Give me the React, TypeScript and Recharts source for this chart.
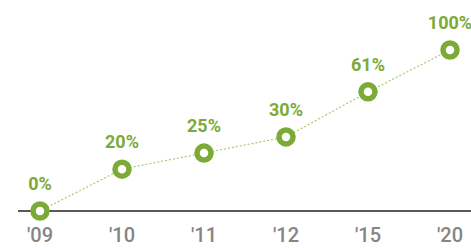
import { LineChart, Line, XAxis, YAxis, LabelList } from "recharts"

// category labels along the bottom
const years = ["'09", "'10", "'11", "'12", "'15", "'20"]
// printed share above each point
const shares = [0, 20, 25, 30, 61, 100]
// plotted height of each point (the chart is not to scale)
const levels = [0, 26, 36, 46, 74, 100]

const GREEN = "#7caa37"

const data = years.map((year, i) => ({
  year,
  level: levels[i],
  label: `${shares[i]}%`,
}))

export default function App() {
  return (
    <div style={{ position: "absolute", left: 0, top: 0 }}>
      <LineChart
        width={471}
        height={248}
        data={data}
        margin={{ top: 50, right: 0, bottom: 7, left: 18 }}
      >
        <XAxis
          dataKey="year"
          padding={{ left: 22, right: 21 }}
          axisLine={{ stroke: "#222", strokeWidth: 1.5 }}
          tickLine={false}
          tickMargin={11}
          height={30}
          tick={{ fill: "#858585", fontSize: 20, fontFamily: "Roboto", fontWeight: 500 }}
        />
        <YAxis hide domain={[0, 100]} />
        <Line
          dataKey="level"
          stroke="#a9c96e"
          strokeWidth={1.2}
          strokeDasharray="2 2"
          isAnimationActive={false}
          dot={{ r: 7, fill: "#fff", stroke: GREEN, strokeWidth: 5.5, strokeDasharray: "none" }}
          activeDot={false}
        >
          <LabelList
            dataKey="label"
            position="top"
            offset={21}
            fill={GREEN}
            fontSize={18}
            fontWeight={700}
            fontFamily="Roboto"
          />
        </Line>
      </LineChart>
    </div>
  )
}
